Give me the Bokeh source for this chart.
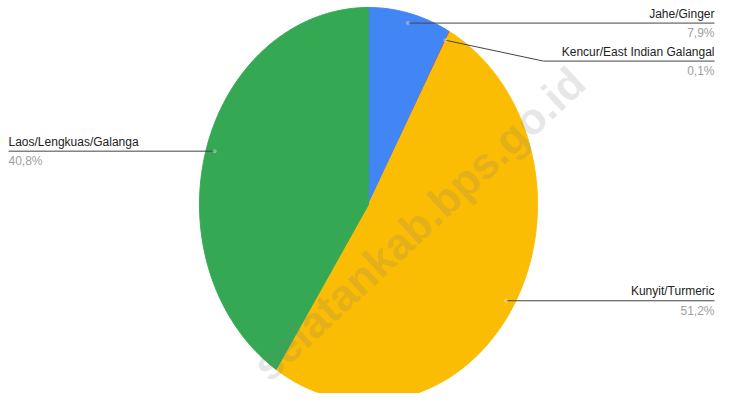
import numpy as np
from bokeh.plotting import figure
from bokeh.models import Range1d, Label
from bokeh.embed import file_html
from bokeh.resources import INLINE
from bokeh.core.properties import value

# ---- data ----
categories = ["Jahe/Ginger", "Kencur/East Indian Galangal", "Kunyit/Turmeric", "Laos/Lengkuas/Galanga"]
shares = [7.9, 0.1, 51.2, 40.8]
pct_labels = ["7,9%", "0,1%", "51,2%", "40,8%"]
colors = ["#4285F4", "#EA4335", "#FBBC04", "#34A853"]
watermark = "selatankab.bps.go.id"

# ---- layout ----
W, H = 716, 393
FONT = "Liberation Sans"
cx, cy, rx, ry = 368, 204, 169, 197
RIGHT_X, LEFT_X = 714, 8
MIN_GAP = 38

p = figure(width=W, height=H, x_range=Range1d(0, W), y_range=Range1d(H, 0),
           output_backend="svg", toolbar_location=None, min_border=0,
           x_axis_location=None, y_axis_location=None)
p.grid.visible = False
p.outline_line_color = None
p.background_fill_color = "white"
p.border_fill_color = "white"

total = float(sum(shares))
fr = np.cumsum([0.0] + shares) / total
xs, ys = [], []
for a0, a1 in zip(fr[:-1], fr[1:]):
    n = max(int((a1 - a0) * 720), 2) + 1
    t = np.linspace(a0, a1, n) * 2 * np.pi
    xs.append([cx] + list(cx + rx * np.sin(t)))
    ys.append([cy] + list(cy - ry * np.cos(t)))
lw = [0 if s < 1 else 1 for s in shares]
p.patches(xs, ys, fill_color=colors, line_color=colors, line_width=lw)

# ---- leader lines & labels ----
mid = (fr[:-1] + fr[1:]) / 2 * 2 * np.pi
ax = cx + 0.95 * rx * np.sin(mid)
ay = cy - 0.95 * ry * np.cos(mid)
right = np.sin(mid) > 0

line_y = ay.copy()
for side in (True, False):
    idx = [i for i in range(len(shares)) if right[i] == side]
    idx.sort(key=lambda i: ay[i])
    prev = None
    for i in idx:
        if prev is not None and line_y[i] < prev + MIN_GAP:
            line_y[i] = prev + MIN_GAP
        prev = line_y[i]

lx, ly = [], []
for i in range(len(shares)):
    end_x = RIGHT_X if right[i] else LEFT_X
    if abs(line_y[i] - ay[i]) > 2:
        elbow = ax[i] + (98 if right[i] else -98)
        lx.append([ax[i], elbow, end_x])
        ly.append([ay[i], line_y[i], line_y[i]])
    else:
        lx.append([ax[i], end_x])
        ly.append([ay[i], line_y[i]])
p.multi_line(lx, ly, line_color="#444444", line_width=1)
p.scatter(ax, ay, size=4, fill_color="white", fill_alpha=0.35, line_color=None)

for i in range(len(shares)):
    tx = RIGHT_X if right[i] else LEFT_X
    al = "right" if right[i] else "left"
    p.text(x=[tx], y=[line_y[i] - 9.5], text=[categories[i]], text_align=al, text_baseline="middle",
           text_font=value(FONT), text_font_size="12px", text_color="#222222")
    p.text(x=[tx], y=[line_y[i] + 10], text=[pct_labels[i]], text_align=al, text_baseline="middle",
           text_font=value(FONT), text_font_size="12px", text_color="#9E9E9E")

# ---- watermark ----
wm = Label(x=418, y=223, text=watermark, angle=43, angle_units="deg",
           text_font=FONT, text_font_style="bold", text_font_size="44px",
           text_color="#808080", text_alpha=0.2, text_align="center", text_baseline="middle")
p.add_layout(wm)

open("out.html", "w").write(file_html(p, INLINE))
